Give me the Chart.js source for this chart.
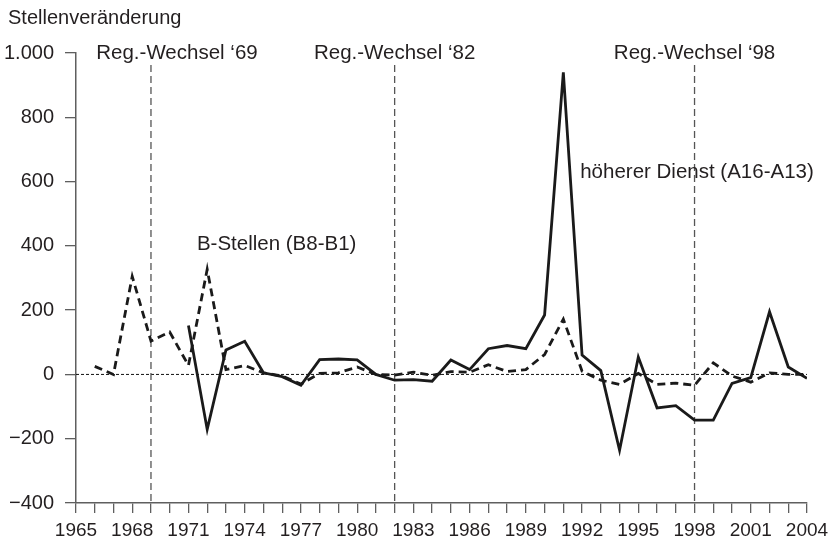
<!DOCTYPE html>
<html>
<head>
<meta charset="utf-8">
<script src="https://cdn.jsdelivr.net/npm/chart.js"></script>
<style>
  html, body { margin: 0; padding: 0; background: #fff; }
  #chart { display: block; }
</style>
</head>
<body>
<canvas id="chart" width="830" height="545"></canvas>
<script>
// Jahre 1966-2004
const years = [];
for (let y = 1966; y <= 2004; y++) years.push(y);

// B-Stellen (B8-B1), gestrichelt
const bStellen = [25, 0, 305, 104, 132, 28, 327, 15, 28, 5, -5, -30, 3, 5, 23, 0, -2, 7, -3, 9,
  7, 30, 9, 15, 62, 172, 10, -18, -31, 3, -31, -27, -34, 36, -5, -24, 5, 0, 0];

// höherer Dienst (A16-A13), durchgezogen
const hoehererDienst = [null, null, null, null, null, 152, -171, 76, 103, 5, -7, -34, 46, 48, 45, 0, -18, -16, -21, 45,
  15, 80, 90, 80, 185, 940, 60, 12, -236, 54, -104, -97, -142, -142, -28, -10, 195, 23, -12];

const regYears = [1969, 1982, 1998];
const regLabels = ["Reg.-Wechsel \u201869", "Reg.-Wechsel \u201882", "Reg.-Wechsel \u201898"];

const yTicks = [-400, -200, 0, 200, 400, 600, 800, 1000];
const xLabelStep = 3;

const FONT = "'Liberation Sans', Arial, Helvetica, sans-serif";
const TEXT = "#231f20";
const AXIS = "#5f5f5f";

function toPoints(vals) {
  return years.map((yr, i) => ({ x: yr, y: vals[i] }));
}

function fmtY(v) {
  if (v < 0) return "\u2212" + Math.abs(v);
  return String(v).replace(/(\d)(?=(\d{3})+$)/, "$1.");
}

const overlay = {
  id: "overlay",
  beforeDatasetsDraw(chart) {
    const { ctx, chartArea, scales } = chart;
    ctx.save();
    // Nulllinie
    const y0 = scales.y.getPixelForValue(0);
    ctx.strokeStyle = "#111";
    ctx.lineWidth = 1;
    ctx.setLineDash([3, 2]);
    ctx.beginPath();
    ctx.moveTo(chartArea.left, y0);
    ctx.lineTo(chartArea.right, y0);
    ctx.stroke();
    // Regierungswechsel
    ctx.strokeStyle = "#555";
    ctx.lineWidth = 1.3;
    ctx.setLineDash([7, 4]);
    regYears.forEach(yr => {
      const x = scales.x.getPixelForValue(yr);
      ctx.beginPath();
      ctx.moveTo(x, chartArea.top + 12);
      ctx.lineTo(x, chartArea.bottom);
      ctx.stroke();
    });
    ctx.restore();
  },
  afterDraw(chart) {
    const { ctx, chartArea, scales } = chart;
    ctx.save();
    ctx.fillStyle = TEXT;
    ctx.textBaseline = "middle";
    ctx.font = "20px " + FONT;
    ctx.textAlign = "left";
    ctx.fillText("Stellenver\u00e4nderung", 8, 18);

    ctx.font = "20.5px " + FONT;
    const shifts = [26, 0, 0];
    ctx.textAlign = "center";
    regYears.forEach((yr, i) => {
      const x = scales.x.getPixelForValue(yr) + shifts[i];
      ctx.fillText(regLabels[i], x, chartArea.top);
    });

    ctx.textAlign = "left";
    ctx.fillText("h\u00f6herer Dienst (A16-A13)", scales.x.getPixelForValue(1991.9), scales.y.getPixelForValue(629));
    ctx.fillText("B-Stellen (B8-B1)", scales.x.getPixelForValue(1971.45), scales.y.getPixelForValue(405));
    ctx.restore();
  }
};

new Chart(document.getElementById("chart"), {
  type: "line",
  data: {
    datasets: [
      {
        label: "B-Stellen (B8-B1)",
        data: toPoints(bStellen),
        borderColor: "#1a1a1a",
        borderWidth: 2.8,
        borderDash: [8, 5],
        pointRadius: 0,
        tension: 0,
        fill: false
      },
      {
        label: "höherer Dienst (A16-A13)",
        data: toPoints(hoehererDienst),
        borderColor: "#1a1a1a",
        borderWidth: 2.8,
        pointRadius: 0,
        tension: 0,
        spanGaps: false,
        fill: false
      }
    ]
  },
  options: {
    responsive: false,
    animation: false,
    layout: { padding: { top: 53, right: 23, left: 0, bottom: 0 } },
    plugins: { legend: { display: false }, tooltip: { enabled: false } },
    scales: {
      x: {
        type: "linear",
        min: 1965,
        max: 2004,
        afterFit(s) { s.height = 42; s.paddingLeft = 0; s.paddingRight = 0; },
        border: { display: true, color: AXIS, width: 1.5 },
        grid: { drawOnChartArea: false, drawTicks: true, tickLength: 10, color: AXIS, lineWidth: 1.3 },
        ticks: {
          stepSize: 1,
          autoSkip: false,
          maxRotation: 0,
          padding: 6,
          color: TEXT,
          font: { family: FONT, size: 19 },
          callback: v => ((v - 1965) % xLabelStep === 0 ? String(v) : "")
        }
      },
      y: {
        min: yTicks[0],
        max: yTicks[yTicks.length - 1],
        afterFit(s) { s.width = 76; s.paddingTop = 0; s.paddingBottom = 0; },
        afterBuildTicks(s) { s.ticks = yTicks.map(v => ({ value: v })); },
        border: { display: true, color: AXIS, width: 1.5 },
        grid: { drawOnChartArea: false, drawTicks: true, tickLength: 11, color: AXIS, lineWidth: 1.3 },
        ticks: {
          padding: 11,
          color: TEXT,
          font: { family: FONT, size: 20 },
          callback: v => fmtY(v)
        }
      }
    }
  },
  plugins: [overlay]
});
</script>
</body>
</html>
